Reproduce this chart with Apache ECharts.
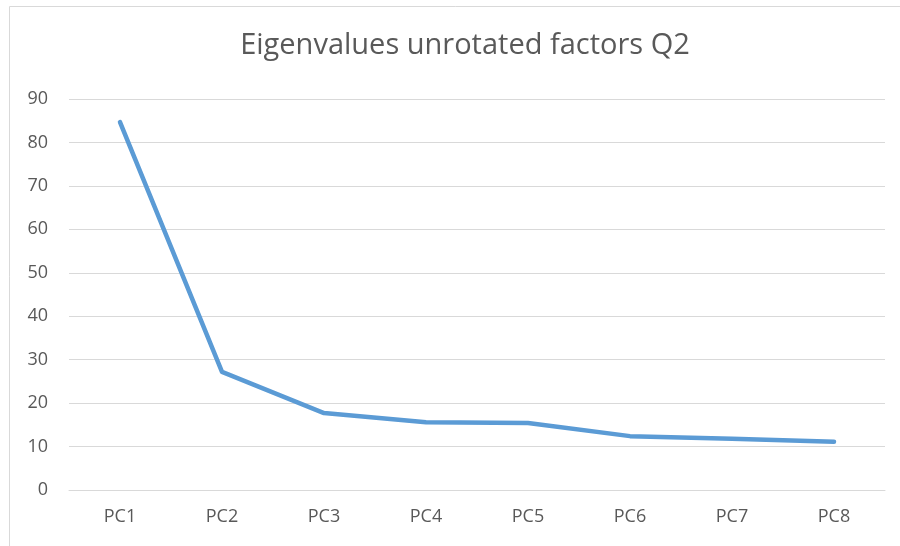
<!DOCTYPE html>
<html>
<head>
<meta charset="utf-8">
<script src="https://cdn.jsdelivr.net/npm/echarts@6/dist/echarts.min.js"></script>
<style>
  html, body { margin: 0; padding: 0; background: #fff; }
  #chart { width: 900px; height: 546px; }
</style>
</head>
<body>
<div id="chart"></div>
<script>
const categories = ['PC1', 'PC2', 'PC3', 'PC4', 'PC5', 'PC6', 'PC7', 'PC8'];
const eigenvalues = [84.7, 27.2, 17.7, 15.6, 15.4, 12.4, 11.8, 11.1];
const yTicks = { min: 0, max: 90, interval: 10 };

const chart = echarts.init(document.getElementById('chart'));
chart.setOption({
  animation: false,
  textStyle: { fontFamily: 'Open Sans' },
  graphic: [{
    type: 'rect',
    shape: { x: 9.5, y: 6.5, width: 900, height: 545 },
    style: { fill: 'none', stroke: '#d9d9d9', lineWidth: 1 },
    silent: true
  }],
  title: {
    text: 'Eigenvalues unrotated factors Q2',
    left: 460,
    textAlign: 'center',
    top: 26,
    textStyle: { fontFamily: 'Open Sans', fontSize: 29, fontWeight: 'normal', color: '#595959' }
  },
  grid: { left: 69, right: 15, top: 99, bottom: 56 },
  xAxis: {
    type: 'category',
    data: categories,
    boundaryGap: true,
    axisTick: { show: false },
    axisLine: { lineStyle: { color: '#d9d9d9', width: 1 } },
    axisLabel: { color: '#595959', fontSize: 18, margin: 18 }
  },
  yAxis: {
    type: 'value',
    min: yTicks.min,
    max: yTicks.max,
    interval: yTicks.interval,
    axisLine: { show: false },
    axisTick: { show: false },
    splitLine: { lineStyle: { color: '#d9d9d9', width: 1 } },
    axisLabel: { color: '#595959', fontSize: 18, margin: 21 }
  },
  series: [{
    type: 'line',
    data: eigenvalues,
    showSymbol: false,
    lineStyle: { color: '#5b9bd5', width: 4.5, cap: 'round', join: 'round' }
  }]
});
</script>
</body>
</html>
